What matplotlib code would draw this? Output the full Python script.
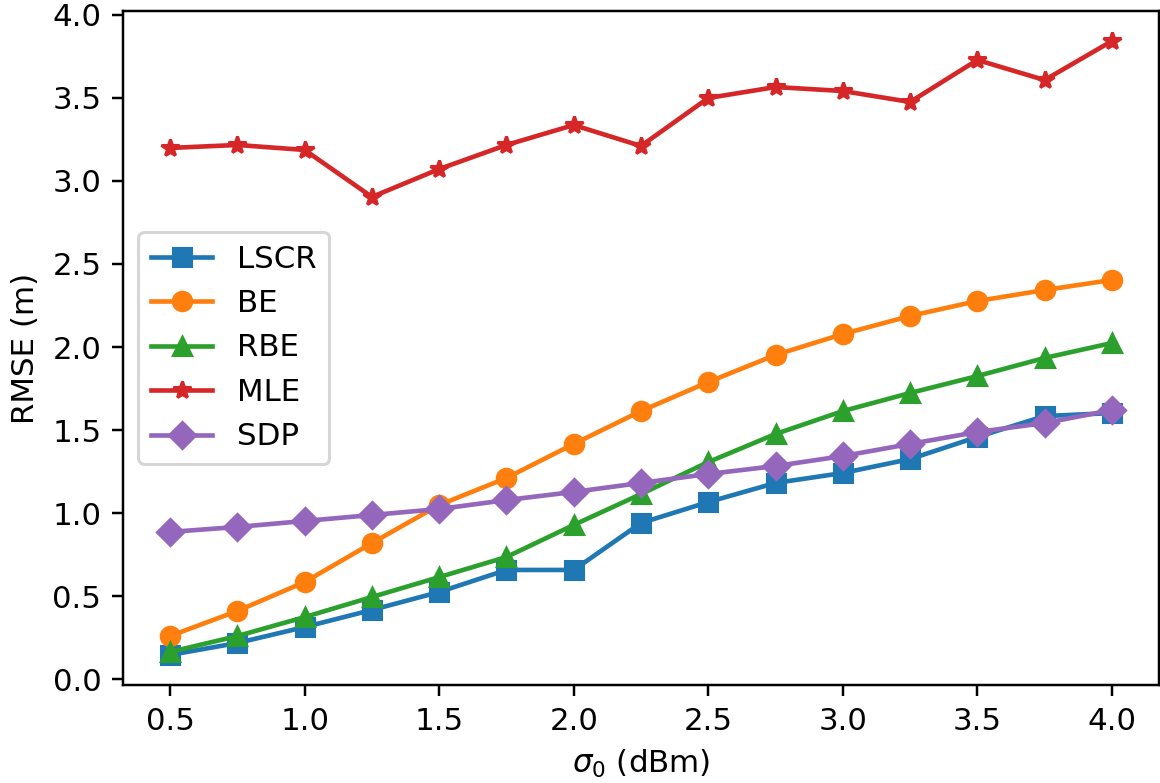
import matplotlib
matplotlib.use("Agg")
import matplotlib.pyplot as plt

sigma = [0.5, 0.75, 1.0, 1.25, 1.5, 1.75, 2.0, 2.25, 2.5, 2.75, 3.0, 3.25, 3.5, 3.75, 4.0]
lscr = [0.145, 0.217, 0.313, 0.416, 0.524, 0.657, 0.657, 0.94, 1.066, 1.181, 1.241, 1.325, 1.458, 1.584, 1.602]
be = [0.259, 0.41, 0.584, 0.819, 1.048, 1.211, 1.416, 1.614, 1.789, 1.952, 2.078, 2.187, 2.277, 2.343, 2.404]
rbe = [0.163, 0.259, 0.373, 0.494, 0.614, 0.735, 0.928, 1.114, 1.307, 1.476, 1.614, 1.723, 1.825, 1.934, 2.024]
mle = [3.199, 3.217, 3.187, 2.904, 3.072, 3.217, 3.337, 3.211, 3.5, 3.566, 3.542, 3.476, 3.729, 3.608, 3.843]
sdp = [0.886, 0.916, 0.952, 0.988, 1.024, 1.078, 1.127, 1.181, 1.235, 1.283, 1.343, 1.416, 1.488, 1.542, 1.62]

DPI = 222
fig = plt.figure(figsize=(1160/DPI, 783/DPI), dpi=DPI)
ax = fig.add_axes([123/1160, 1-685/783, (1159-123)/1160, (685-11)/783])
ax.plot(sigma, lscr, marker='s', label='LSCR')
ax.plot(sigma, be, marker='o', label='BE')
ax.plot(sigma, rbe, marker='^', label='RBE')
ax.plot(sigma, mle, marker='*', label='MLE')
ax.plot(sigma, sdp, marker='D', label='SDP')
ax.set_xlim(0.325, 4.175)
ax.set_ylim(-0.036, 4.024)
ax.set_xlabel(r'$\sigma_0$ (dBm)')
ax.set_ylabel('RMSE (m)')
ax.legend(loc='center left')
fig.savefig('out.png', dpi=DPI)
